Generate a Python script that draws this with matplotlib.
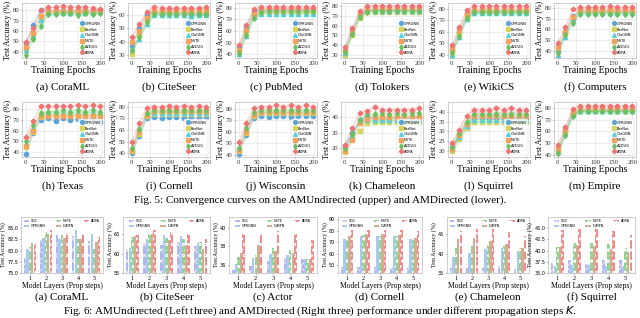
import matplotlib
matplotlib.use("Agg")
import matplotlib.pyplot as plt
import numpy as np

# ---------------- data ----------------
epochs = [0, 20, 40, 60, 80, 100, 120, 140, 160, 180, 200]
line_methods = ["GPRGNN", "BerNet", "GloGNN", "NSTE", "A2DUG", "ADPA"]

coraml = [[48, 66, 80, 80, 79, 80, 79, 80, 79, 80, 80],
          [44, 57, 73, 78, 78, 78, 78, 79, 78, 78, 79],
          [42, 55, 71, 77, 77, 77, 77, 78, 77, 77, 78],
          [45, 58, 74, 79, 79, 79, 79, 79, 79, 79, 79],
          [37, 52, 65, 76, 76, 77, 77, 75, 77, 76, 77],
          [49, 63, 80, 83, 83, 84, 83, 83, 83, 82, 81]]
citeseer = [[37, 50, 61, 62, 61, 62, 61, 62, 61, 61, 61],
            [31, 45, 57, 63, 63, 64, 64, 64, 64, 64, 64],
            [35, 42, 53, 60, 60, 60, 60, 60, 59, 60, 60],
            [40, 48, 58, 63, 63, 63, 63, 62, 63, 63, 63],
            [34, 44, 55, 61, 61, 61, 61, 61, 61, 61, 61],
            [44, 53, 62, 66, 65, 65, 65, 65, 65, 65, 66]]
pubmed = [[46, 63, 77, 78, 78, 78, 78, 78, 78, 78, 78],
          [43, 59, 74, 76, 76, 76, 76, 76, 76, 76, 76],
          [40, 56, 72, 75, 75, 75, 75, 75, 75, 75, 75],
          [44, 61, 75, 78, 78, 78, 78, 78, 78, 78, 78],
          [41, 57, 71, 76, 77, 77, 77, 77, 77, 77, 77],
          [48, 65, 79, 81, 81, 81, 81, 81, 81, 81, 81]]
tolokers = [[35, 56, 72, 76, 76, 76, 76, 76, 76, 76, 76],
            [30, 50, 68, 74, 74, 74, 74, 74, 74, 74, 74],
            [32, 52, 70, 75, 75, 75, 75, 75, 75, 75, 75],
            [34, 53, 71, 77, 77, 77, 77, 77, 77, 77, 77],
            [33, 51, 69, 74, 75, 75, 75, 75, 75, 75, 75],
            [38, 58, 75, 80, 80, 80, 80, 80, 80, 80, 80]]
wikics = [[44, 60, 75, 78, 78, 78, 78, 78, 78, 78, 78],
          [42, 58, 73, 77, 77, 77, 77, 77, 77, 77, 77],
          [40, 55, 71, 76, 76, 76, 76, 76, 76, 76, 76],
          [45, 61, 75, 79, 79, 79, 79, 79, 79, 79, 79],
          [41, 56, 72, 77, 77, 77, 77, 77, 77, 77, 77],
          [48, 64, 79, 82, 82, 82, 82, 82, 82, 82, 82]]
computers = [[40, 58, 73, 78, 77, 77, 77, 78, 77, 78, 77],
             [42, 57, 71, 77, 77, 77, 77, 77, 77, 77, 77],
             [36, 53, 70, 76, 76, 76, 76, 76, 76, 76, 76],
             [43, 58, 72, 78, 78, 78, 78, 78, 78, 78, 78],
             [38, 55, 66, 75, 75, 75, 75, 75, 75, 75, 75],
             [47, 62, 79, 81, 81, 81, 81, 82, 81, 81, 81]]
texas = [[38, 58, 70, 72, 69, 72, 70, 71, 70, 72, 68],
         [44, 59, 73, 75, 75, 75, 75, 75, 75, 75, 75],
         [47, 62, 75, 77, 77, 77, 77, 77, 77, 77, 77],
         [45, 60, 74, 74, 74, 74, 74, 74, 74, 74, 74],
         [50, 65, 77, 78, 78, 79, 78, 79, 78, 79, 78],
         [54, 69, 83, 83, 83, 83, 83, 84, 83, 84, 83]]
cornell = [[40, 55, 70, 71, 70, 71, 71, 70, 71, 70, 71],
           [42, 57, 72, 74, 74, 74, 74, 74, 74, 74, 74],
           [44, 60, 74, 75, 75, 75, 75, 75, 75, 75, 75],
           [43, 58, 73, 76, 76, 76, 76, 76, 76, 76, 76],
           [45, 61, 75, 77, 77, 77, 77, 77, 77, 77, 77],
           [50, 66, 79, 80, 80, 81, 80, 81, 80, 81, 80]]
wisconsin = [[41, 57, 72, 74, 73, 74, 74, 73, 74, 74, 74],
             [43, 59, 74, 76, 76, 76, 76, 76, 76, 76, 76],
             [45, 62, 76, 77, 77, 77, 77, 77, 77, 77, 77],
             [44, 60, 75, 77, 77, 77, 77, 77, 77, 77, 77],
             [46, 63, 77, 79, 79, 79, 79, 79, 79, 79, 79],
             [51, 68, 81, 82, 82, 83, 82, 83, 82, 83, 82]]
chameleon = [[21, 30, 38, 40, 39, 39, 39, 40, 39, 40, 40],
             [17, 26, 31, 36, 37, 37, 37, 37, 37, 37, 37],
             [19, 28, 37, 38, 38, 38, 38, 38, 38, 38, 38],
             [18, 25, 36, 39, 40, 40, 40, 40, 40, 40, 40],
             [20, 29, 38, 42, 42, 43, 42, 43, 42, 43, 43],
             [22, 33, 43, 44, 47, 45, 45, 45, 45, 45, 46]]
squirrel = [[22, 28, 34, 37, 37, 37, 37, 37, 37, 37, 37],
            [20, 26, 32, 35, 35, 35, 35, 35, 35, 35, 35],
            [21, 27, 33, 36, 36, 36, 36, 36, 36, 36, 36],
            [21, 28, 34, 38, 38, 38, 38, 38, 38, 38, 38],
            [22, 29, 35, 39, 39, 39, 39, 39, 39, 39, 39],
            [24, 31, 38, 41, 41, 41, 42, 41, 42, 41, 41]]
empire = [[44, 60, 76, 78, 78, 78, 78, 78, 78, 78, 78],
          [43, 59, 75, 77, 77, 77, 77, 77, 77, 77, 77],
          [42, 58, 74, 77, 77, 77, 77, 77, 77, 77, 77],
          [45, 61, 76, 79, 79, 79, 79, 79, 79, 79, 79],
          [41, 57, 73, 77, 77, 77, 77, 77, 77, 77, 77],
          [48, 64, 79, 82, 82, 82, 82, 82, 82, 82, 82]]

line_captions = ["(a) CoraML", "(b) CiteSeer", "(c) PubMed", "(d) Tolokers", "(e) WikiCS", "(f) Computers",
                 "(h) Texas", "(i) Cornell", "(j) Wisconsin", "(k) Chameleon", "(l) Squirrel", "(m) Empire"]
line_ticks = [[40, 50, 60, 70, 80], [30, 40, 50, 60], [40, 50, 60, 70, 80], [30, 40, 50, 60, 70, 80],
              [40, 50, 60, 70, 80], [40, 50, 60, 70, 80], [40, 50, 60, 70, 80], [40, 50, 60, 70, 80],
              [40, 50, 60, 70, 80], [20, 30, 40], [20, 25, 30, 35, 40], [40, 50, 60, 70, 80]]

layers = [1, 2, 3, 4, 5]
bar_methods = ["SGC", "GPRGNN", "NSTE", "DiMPN", "ADPA"]
bar_coraml = [[78.3, 82.4, 83.8, 83.2, 82.1],
              [80.4, 82.8, 82.6, 84.6, 83.6],
              [80.8, 84.1, 83.5, 82.6, 80.4],
              [81.7, 83.8, 82.8, 82.6, 81.9],
              [81.5, 84.5, 84.0, 83.6, 83.0]]
bar_citeseer = [[61.2, 62.7, 62.3, 63.0, 62.1],
                [61.4, 63.9, 64.8, 64.5, 62.7],
                [64.2, 65.1, 64.0, 63.7, 62.9],
                [64.6, 65.1, 63.6, 62.3, 61.2],
                [64.8, 66.2, 65.7, 65.1, 63.7]]
bar_actor = [[35.4, 35.9, 36.4, 36.7, 36.6],
             [36.1, 36.7, 37.2, 37.1, 36.6],
             [36.8, 37.1, 37.8, 37.6, 36.6],
             [37.3, 38.1, 37.5, 37.3, 36.6],
             [39.3, 39.6, 39.7, 39.4, 38.7]]
bar_cornell = [[48.5, 48.5, 48.5, 47.5, 47.5],
               [72.5, 75.0, 75.5, 75.5, 72.5],
               [74.0, 76.6, 75.5, 75.5, 73.5],
               [75.5, 77.0, 77.5, 76.5, 74.0],
               [80.6, 81.0, 81.0, 81.0, 79.5]]
bar_chameleon = [[36.4, 36.4, 36.4, 36.8, 36.1],
                 [39.2, 40.2, 41.3, 41.4, 40.6],
                 [41.5, 41.9, 42.3, 41.9, 41.5],
                 [43.7, 44.0, 43.4, 42.4, 41.5],
                 [45.9, 46.5, 46.3, 45.6, 44.7]]
bar_squirrel = [[37.2, 37.8, 37.0, 37.9, 37.9],
                [36.6, 36.8, 36.8, 36.6, 36.6],
                [40.7, 41.8, 41.8, 41.5, 40.5],
                [40.7, 41.2, 41.1, 40.4, 39.6],
                [44.6, 44.8, 44.8, 44.4, 43.4]]
bar_captions = ["(a) CoraML", "(b) CiteSeer", "(c) Actor", "(d) Cornell", "(e) Chameleon", "(f) Squirrel"]
bar_ylims = [(75, 87.5), (55, 69.5), (35.1, 41.2), (43, 92), (35, 49.5), (35, 47.5)]
bar_ticks = [[75.0, 77.5, 80.0, 82.5, 85.0], [55, 60, 65], [36, 38, 40], [50, 60, 70, 80, 90],
             [35, 40, 45], [35.0, 37.5, 40.0, 42.5, 45.0]]
bar_tickfmt = ["%.1f", "%d", "%d", "%d", "%d", "%.1f"]

# ---------------- style ----------------
W, H = 640, 318
SERIF = ["Liberation Serif", "DejaVu Serif"]
line_colors = ["#5ba3d9", "#d6d65c", "#55d0e0", "#f5a35a", "#6cc15f", "#f07272"]
line_markers = ["o", "s", "^", "s", "d", "P"]
bar_colors = ["#b4b4f2", "#a9c9f2", "#92d392", "#cfae93", "#f28a8a"]
bar_hatches = ["xxx", "", "ooo", "", "ooo"]
plt.rcParams["hatch.linewidth"] = 0.5

fig = plt.figure(figsize=(W / 100, H / 100), dpi=100)


def add_ax(left, top, w, h):
    return fig.add_axes([left / W, 1 - (top + h) / H, w / W, h / H])


line_data = [coraml, citeseer, pubmed, tolokers, wikics, computers,
             texas, cornell, wisconsin, chameleon, squirrel, empire]
lefts = [22, 128, 235, 341, 448, 554]
row_tops = [3, 102]
AXW, AXH = 82, 55

for i, data in enumerate(line_data):
    r, c = divmod(i, 6)
    ax = add_ax(lefts[c], row_tops[r], AXW, AXH)
    ax.set_facecolor("white")
    ax.grid(True, color="#e6e6e6", linewidth=0.5)
    ax.set_axisbelow(True)
    for s in ax.spines.values():
        s.set_color("#bbbbbb")
        s.set_linewidth(0.5)
    for k, vals in enumerate(data):
        v = np.array(vals, dtype=float)
        ax.fill_between(epochs, v - 2, v + 2, color=line_colors[k], alpha=0.10, linewidth=0)
        ax.plot(epochs, v, color=line_colors[k], alpha=0.35, linewidth=0.6)
        ax.plot(epochs, v, linestyle="none", marker=line_markers[k], markersize=3,
                color=line_colors[k], label=line_methods[k])
    ticks = line_ticks[i]
    ax.set_yticks(ticks)
    lo = min(min(d) for d in data) - 3
    hi = max(max(d) for d in data) + 3
    ax.set_ylim(lo, hi)
    ax.set_xlim(-10, 210)
    ax.set_xticks([0, 50, 100, 150, 200])
    ax.tick_params(labelsize=4.8, length=1, width=0.4, pad=1, colors="#333333")
    for t in ax.get_yticklabels() + ax.get_xticklabels():
        t.set_fontfamily(SERIF)
    ax.set_xlabel("Training Epochs", fontsize=7, family=SERIF, labelpad=0.5)
    ax.set_ylabel("Test Accuracy (%)", fontsize=5.8, family=SERIF, labelpad=0.5)
    leg = ax.legend(loc="lower right", fontsize=2.6, markerscale=0.9, frameon=True,
                    handletextpad=0.4, borderpad=0.4, labelspacing=0.5, handlelength=1.0)
    leg.get_frame().set_linewidth(0.3)
    fig.text((lefts[c] + AXW / 2) / W, 1 - (row_tops[r] + 84) / H, line_captions[i],
             ha="center", va="center", fontsize=8, family=SERIF)

fig.text(0.5, 1 - 200 / H,
         "Fig. 5: Convergence curves on the AMUndirected (upper) and AMDirected (lower).",
         ha="center", va="center", fontsize=8, family=SERIF)

# ---------------- bar charts ----------------
bar_data = [bar_coraml, bar_citeseer, bar_actor, bar_cornell, bar_chameleon, bar_squirrel]
bar_lefts = [21, 123, 229, 338, 447, 548]
bar_widths = [82, 87, 88, 84, 82, 87]
BTOP, BH = 217, 56
x = np.arange(len(layers))
bw = 0.15
for i, data in enumerate(bar_data):
    ax = add_ax(bar_lefts[i], BTOP, bar_widths[i], BH)
    for s in ax.spines.values():
        s.set_color("#bbbbbb")
        s.set_linewidth(0.5)
    for k, vals in enumerate(data):
        ax.bar(x + (k - 2) * bw, vals, width=bw * 0.95, color=bar_colors[k],
               edgecolor="white", hatch=bar_hatches[k], linewidth=0, label=bar_methods[k])
    ax.set_ylim(*bar_ylims[i])
    ax.set_yticks(bar_ticks[i])
    ax.set_yticklabels([bar_tickfmt[i] % t for t in bar_ticks[i]])
    ax.set_xticks(x)
    ax.set_xticklabels([str(l) for l in layers])
    ax.set_xlim(-0.55, 4.55)
    ax.tick_params(axis="y", labelsize=3.5, length=1, width=0.4, pad=1)
    ax.tick_params(axis="x", labelsize=4.5, length=1, width=0.4, pad=1)
    for t in ax.get_xticklabels():
        t.set_fontfamily(SERIF)
    ax.set_xlabel("Model Layers (Prop steps)", fontsize=5.5, family=SERIF, labelpad=1)
    ax.set_ylabel("Test Accuracy (%)", fontsize=4.3, family=SERIF, labelpad=1)
    leg = ax.legend(loc="upper center", ncol=3, fontsize=2.4, frameon=False,
                    handlelength=1.6, handleheight=0.8, columnspacing=3.0,
                    handletextpad=0.5, labelspacing=0.3, borderaxespad=0.3)
    fig.text((bar_lefts[i] + bar_widths[i] / 2) / W, 1 - 297 / H, bar_captions[i],
             ha="center", va="center", fontsize=8, family=SERIF)

fig.text(0.5, 1 - 311 / H,
         "Fig. 6: AMUndirected (Left three) and AMDirected (Right three) performance under different propagation steps $K$.",
         ha="center", va="center", fontsize=8, family=SERIF)

fig.savefig("out.png", dpi=100)
